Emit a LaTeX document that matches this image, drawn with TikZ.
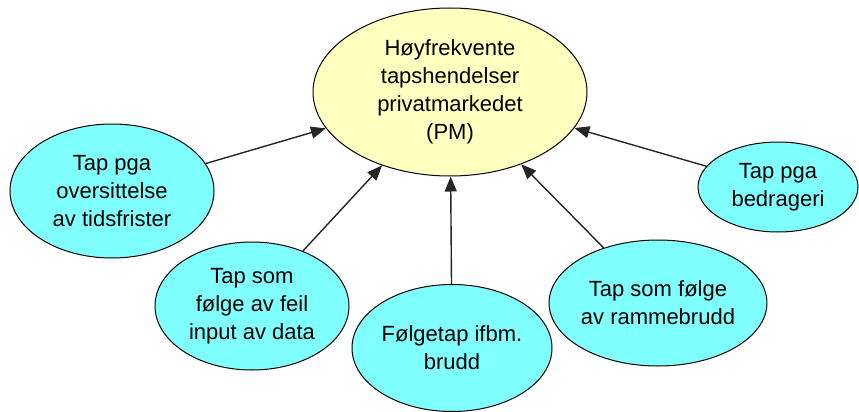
\documentclass[tikz,border=0pt]{standalone}
\usepackage{fontspec}
\setmainfont{Liberation Sans}
\usetikzlibrary{shapes.geometric,arrows.meta}
\definecolor{goalfill}{HTML}{FFFFC0}
\definecolor{causefill}{HTML}{80FFFF}
\begin{document}
\begin{tikzpicture}[x=1pt,y=-1pt,
  bubble/.style={ellipse, draw=black, line width=1pt, inner sep=0pt,
    align=center, text=black, font=\fontsize{22}{28}\selectfont},
  goal/.style={bubble, fill=goalfill},
  cause/.style={bubble, fill=causefill},
  link/.style={line width=1.4pt, draw=black!85,
    -{Triangle[length=15pt,width=12pt]}}]
  \useasboundingbox (0,0) rectangle (859,412);
  % central event
  \node[goal, minimum width=274pt, minimum height=168pt] (pm) at (450,92)
    {Høyfrekvente\\tapshendelser\\privatmarkedet\\(PM)};
  % contributing causes
  \node[cause, minimum width=204pt, minimum height=134pt] (frist) at (112,191)
    {Tap pga\\oversittelse\\av tidsfrister};
  \node[cause, minimum width=194pt, minimum height=128pt] (input) at (252,306)
    {Tap som\\følge av feil\\input av data};
  \node[cause, minimum width=200pt, minimum height=127pt] (brudd) at (452,348)
    {Følgetap ifbm.\\brudd};
  \node[cause, minimum width=202pt, minimum height=126pt] (ramme) at (658,303)
    {Tap som følge\\av rammebrudd};
  \node[cause, minimum width=160pt, minimum height=90pt] (bedrag) at (778,187)
    {Tap pga\\bedrageri};
  % links into the central event
  \foreach \src in {frist,input,brudd,ramme,bedrag}
    \draw[link] (\src) -- (pm);
\end{tikzpicture}
\end{document}
